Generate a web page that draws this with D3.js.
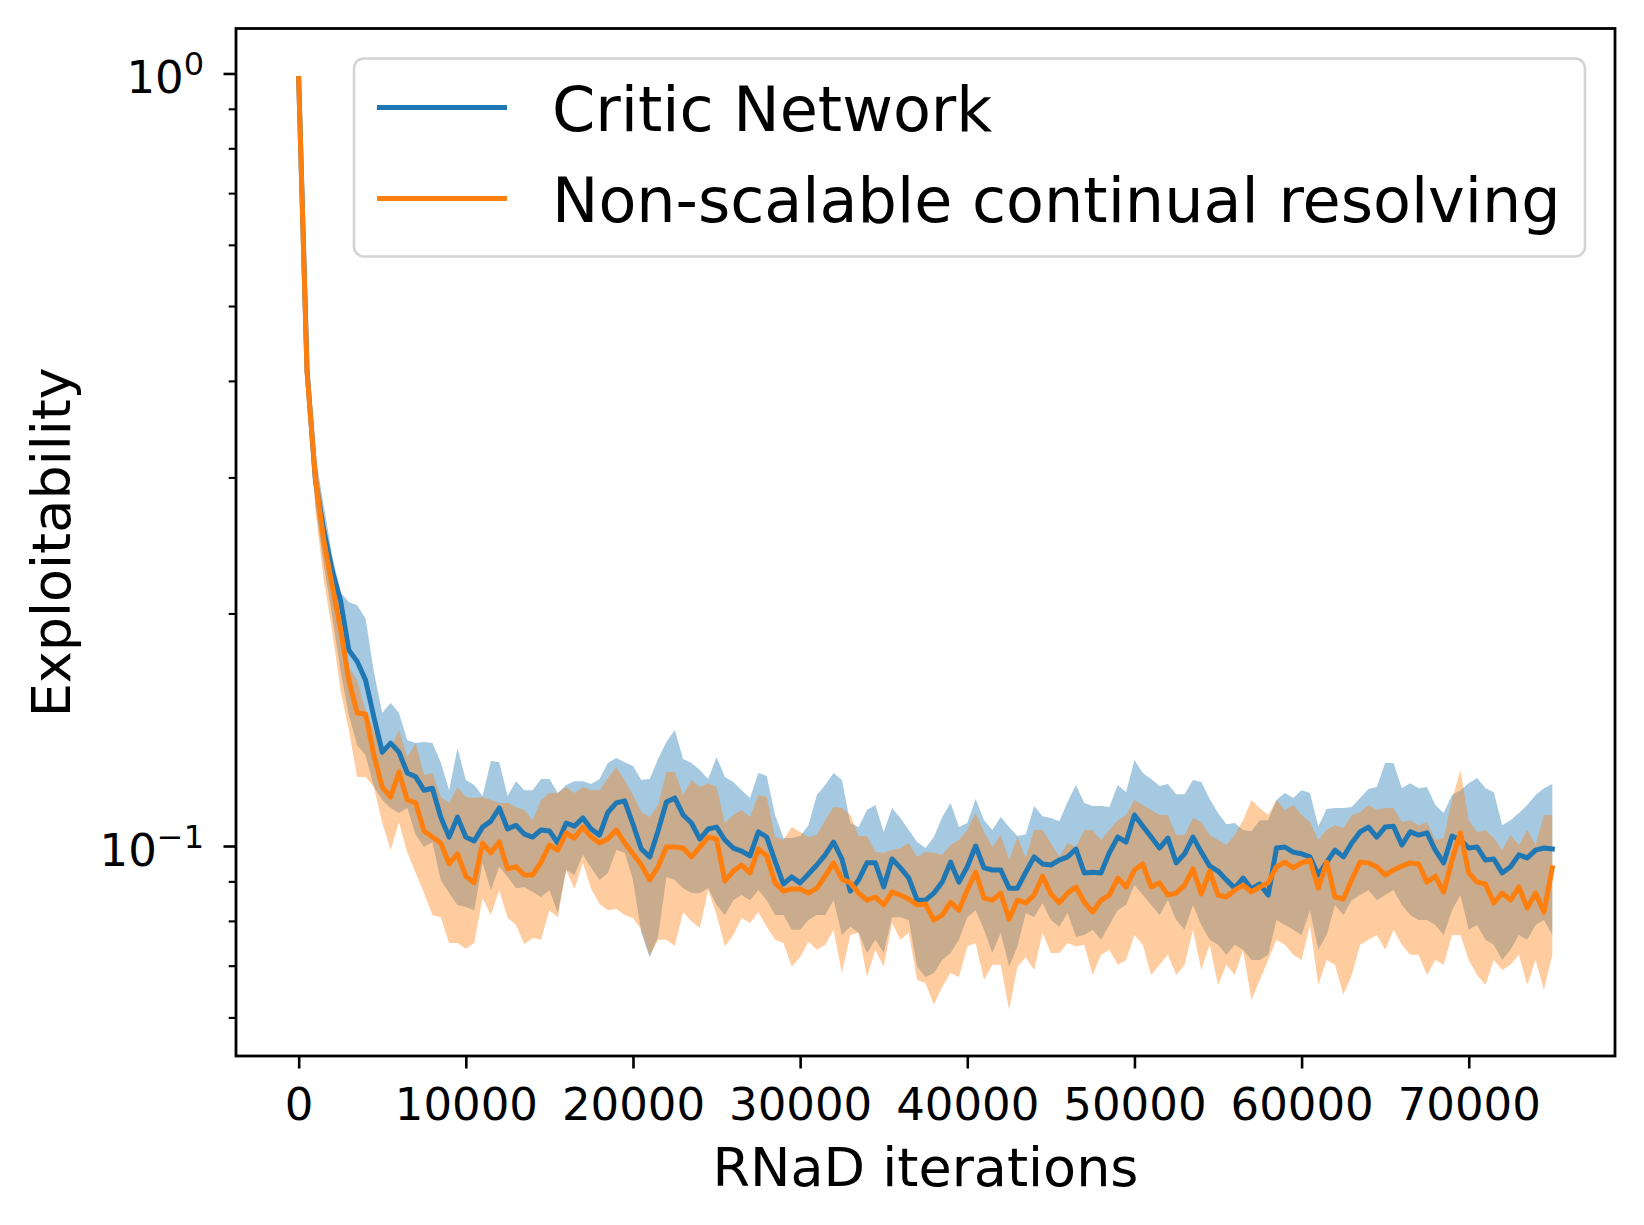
<!DOCTYPE html>
<html><head><meta charset="utf-8">
<script src="https://cdn.jsdelivr.net/npm/d3@7"></script>
<style>html,body{margin:0;padding:0;background:#fff;} svg{display:block;font-family:"DejaVu Sans",sans-serif;}</style>
</head><body><svg id="chart" width="1644" height="1225"></svg>
<script>
// ---------------- data ----------------
const iterStep = 500;            // evaluation every 500 RNaD iterations (0 .. 75000)
const seriesNames = ["Critic Network", "Non-scalable continual resolving"];
const seriesColors = ["#1f77b4", "#ff7f0e"];

const blueMean = [
0.985,0.413,0.2975,0.2563,0.2275,0.2081,0.1793,0.1733,0.1640,0.1468,
0.1323,0.1359,0.1323,0.1243,0.1229,0.1181,0.1188,0.1090,0.1027,0.1090,
0.1027,0.1015,0.1058,0.1077,0.1120,0.1052,0.1064,0.1036,0.1027,0.1049,
0.1046,0.1009,0.1071,0.1061,0.1087,0.1052,0.1033,0.1106,0.1137,0.1144,
0.1067,0.0991,0.0968,0.1046,0.1140,0.1154,0.1097,0.1071,0.1021,0.1052,
0.1058,0.1018,0.0994,0.0985,0.0971,0.1043,0.1027,0.0956,0.0893,0.0912,
0.0896,0.0920,0.0945,0.0974,0.1012,0.0962,0.0874,0.0904,0.0951,0.0951,
0.0885,0.0962,0.0937,0.0909,0.0851,0.0851,0.0869,0.0898,0.0953,0.0898,
0.0940,0.1000,0.0937,0.0931,0.0931,0.0882,0.0882,0.0925,0.0968,0.0948,
0.0945,0.0959,0.0968,0.0991,0.0923,0.0925,0.0923,0.0980,0.1027,0.1012,
0.1097,0.1061,0.1027,0.0994,0.1024,0.0951,0.0977,0.1027,0.0982,0.0942,
0.0928,0.0904,0.0882,0.0909,0.0880,0.0893,0.0864,0.0994,0.0997,0.0982,
0.0977,0.0968,0.0917,0.0953,0.0988,0.0968,0.1009,0.1043,0.1058,0.1027,
0.1058,0.1061,0.1003,0.1043,0.1033,0.1040,0.0988,0.0951,0.1030,0.1018,
0.0994,0.0997,0.0959,0.0962,0.0923,0.0940,0.0974,0.0965,0.0988,0.0994,
0.0991];

const blueUpper = [
0.995,0.436,0.3205,0.276,0.238,0.213,0.207,0.205,0.197,0.168,
0.1486,0.1531,0.1486,0.1371,0.1359,0.1363,0.1359,0.1284,0.1181,0.1339,
0.1217,0.1199,0.1161,0.1288,0.1284,0.1161,0.1213,0.1181,0.1181,0.1221,
0.1221,0.1171,0.1199,0.1213,0.1213,0.1203,0.1221,0.1281,0.1300,0.1284,
0.1269,0.1217,0.1221,0.1296,0.1363,0.1413,0.1296,0.1281,0.1254,0.1221,
0.1303,0.1228,0.1210,0.1181,0.1154,0.1243,0.1232,0.1097,0.1024,0.1024,
0.1030,0.1064,0.1164,0.1199,0.1243,0.1217,0.1071,0.1058,0.1113,0.1130,
0.1043,0.1120,0.1087,0.1049,0.1012,0.0994,0.1027,0.1090,0.1137,0.1058,
0.1071,0.1150,0.1080,0.1049,0.1090,0.1058,0.1030,0.1036,0.1127,0.1093,
0.1087,0.1077,0.1140,0.1199,0.1137,0.1127,0.1127,0.1123,0.1199,0.1174,
0.1292,0.1243,0.1221,0.1196,0.1203,0.1167,0.1167,0.1217,0.1210,0.1150,
0.1103,0.1067,0.1071,0.1049,0.1046,0.1080,0.1080,0.1147,0.1171,0.1154,
0.1181,0.1171,0.1061,0.1117,0.1120,0.1120,0.1123,0.1154,0.1185,0.1192,
0.1281,0.1281,0.1188,0.1206,0.1188,0.1192,0.1130,0.1103,0.1164,0.1181,
0.1206,0.1225,0.1188,0.1174,0.1064,0.1080,0.1103,0.1130,0.1164,0.1188,
0.1203];

const blueLower = [
0.982,0.389,0.276,0.231,0.199,0.1689,0.1477,0.1351,0.1311,0.1192,
0.1147,0.1120,0.1103,0.1120,0.1033,0.0997,0.1012,0.0904,0.0869,0.0839,
0.0834,0.0826,0.0951,0.0877,0.0940,0.0912,0.0882,0.0885,0.0872,0.0859,
0.0877,0.0819,0.0931,0.0917,0.0974,0.0937,0.0904,0.0923,0.0988,0.0980,
0.0904,0.0772,0.0718,0.0763,0.0912,0.0904,0.0882,0.0869,0.0869,0.0882,
0.0839,0.0814,0.0851,0.0864,0.0851,0.0877,0.0851,0.0814,0.0814,0.0779,
0.0779,0.0802,0.0814,0.0814,0.0851,0.0767,0.0786,0.0772,0.0727,0.0756,
0.0727,0.0809,0.0809,0.0802,0.0698,0.0677,0.0685,0.0712,0.0727,0.0756,
0.0809,0.0826,0.0779,0.0727,0.0772,0.0698,0.0741,0.0819,0.0809,0.0844,
0.0802,0.0786,0.0819,0.0763,0.0767,0.0779,0.0756,0.0790,0.0826,0.0839,
0.0890,0.0864,0.0839,0.0814,0.0851,0.0802,0.0779,0.0839,0.0790,0.0756,
0.0745,0.0723,0.0745,0.0734,0.0712,0.0712,0.0723,0.0802,0.0790,0.0779,
0.0767,0.0826,0.0734,0.0767,0.0839,0.0814,0.0851,0.0864,0.0877,0.0851,
0.0864,0.0877,0.0839,0.0814,0.0802,0.0802,0.0790,0.0767,0.0826,0.0864,
0.0779,0.0790,0.0756,0.0745,0.0712,0.0734,0.0767,0.0756,0.0790,0.0802,
0.0767];

const orangeMean = [
0.985,0.4106,0.2993,0.2488,0.2176,0.1914,0.1640,0.1486,0.1482,0.1311,
0.1192,0.1157,0.1247,0.1147,0.1137,0.1046,0.1027,0.1009,0.0948,0.0977,
0.0914,0.0896,0.1009,0.0980,0.1012,0.0934,0.0940,0.0917,0.0917,0.0953,
0.1003,0.0988,0.1040,0.1024,0.1058,0.1027,0.1009,0.1021,0.1049,0.1009,
0.0977,0.0945,0.0904,0.0940,0.0997,0.0997,0.0994,0.0968,0.0997,0.1027,
0.1021,0.0901,0.0928,0.0945,0.0923,0.0991,0.0971,0.0896,0.0874,0.0880,
0.0880,0.0869,0.0882,0.0914,0.0951,0.0906,0.0896,0.0869,0.0851,0.0859,
0.0839,0.0872,0.0864,0.0854,0.0839,0.0841,0.0802,0.0814,0.0846,0.0826,
0.0877,0.0925,0.0856,0.0851,0.0869,0.0804,0.0851,0.0844,0.0864,0.0914,
0.0867,0.0844,0.0869,0.0885,0.0846,0.0821,0.0851,0.0864,0.0909,0.0885,
0.0931,0.0948,0.0885,0.0896,0.0864,0.0869,0.0890,0.0934,0.0867,0.0928,
0.0864,0.0859,0.0877,0.0890,0.0872,0.0885,0.0896,0.0940,0.0953,0.0937,
0.0951,0.0959,0.0882,0.0953,0.0859,0.0854,0.0904,0.0953,0.0951,0.0940,
0.0917,0.0931,0.0942,0.0951,0.0948,0.0898,0.0914,0.0872,0.0959,0.1040,
0.0923,0.0898,0.0893,0.0844,0.0869,0.0851,0.0885,0.0831,0.0869,0.0821,
0.0937];

const orangeUpper = [
0.993,0.432,0.3205,0.268,0.2344,0.2081,0.1704,0.1640,0.1500,0.1413,
0.1343,0.1339,0.1413,0.1303,0.1359,0.1236,0.1243,0.1157,0.1137,0.1192,
0.1157,0.1154,0.1157,0.1147,0.1137,0.1137,0.1123,0.1113,0.1080,0.1147,
0.1171,0.1171,0.1192,0.1171,0.1192,0.1181,0.1181,0.1225,0.1266,0.1217,
0.1164,0.1106,0.1090,0.1130,0.1247,0.1247,0.1164,0.1217,0.1192,0.1206,
0.1192,0.1071,0.1097,0.1113,0.1090,0.1164,0.1157,0.1027,0.1018,0.1058,
0.1043,0.1027,0.1033,0.1080,0.1123,0.1120,0.1097,0.1030,0.1030,0.0982,
0.0980,0.0988,0.0994,0.1009,0.0968,0.0982,0.0980,0.0974,0.1003,0.1018,
0.1049,0.1103,0.1043,0.0997,0.1033,0.0959,0.1027,0.0965,0.1049,0.1049,
0.1009,0.0968,0.1009,0.0997,0.1049,0.1049,0.1018,0.1049,0.1080,0.1097,
0.1147,0.1130,0.1113,0.1097,0.1097,0.1033,0.1033,0.1087,0.1074,0.1033,
0.1018,0.1003,0.1033,0.1080,0.1147,0.1120,0.1097,0.1147,0.1113,0.1130,
0.1097,0.1074,0.1018,0.1049,0.1064,0.1055,0.1097,0.1106,0.1130,0.1113,
0.1120,0.1120,0.1074,0.1080,0.1064,0.1074,0.1018,0.1024,0.1147,0.1254,
0.1080,0.1043,0.1049,0.1024,0.0988,0.1033,0.1003,0.1049,0.1003,0.1097,
0.1097];

const orangeLower = [
0.982,0.383,0.2721,0.2209,0.1903,0.1591,0.1413,0.1228,0.1228,0.1192,
0.1071,0.0988,0.1074,0.0980,0.0923,0.0869,0.0814,0.0809,0.0749,0.0749,
0.0736,0.0749,0.0856,0.0814,0.0877,0.0807,0.0790,0.0747,0.0760,0.0756,
0.0826,0.0809,0.0931,0.0880,0.0951,0.0880,0.0841,0.0826,0.0829,0.0814,
0.0807,0.0779,0.0721,0.0756,0.0756,0.0743,0.0821,0.0799,0.0783,0.0877,
0.0814,0.0741,0.0767,0.0807,0.0795,0.0821,0.0786,0.0756,0.0749,0.0698,
0.0718,0.0752,0.0734,0.0745,0.0779,0.0685,0.0767,0.0772,0.0677,0.0734,
0.0698,0.0795,0.0756,0.0772,0.0671,0.0665,0.0623,0.0657,0.0685,0.0677,
0.0741,0.0749,0.0671,0.0702,0.0702,0.0614,0.0698,0.0718,0.0691,0.0772,
0.0727,0.0727,0.0749,0.0741,0.0745,0.0681,0.0723,0.0734,0.0702,0.0712,
0.0767,0.0745,0.0681,0.0702,0.0723,0.0681,0.0702,0.0779,0.0691,0.0745,
0.0661,0.0702,0.0681,0.0734,0.0632,0.0671,0.0712,0.0756,0.0745,0.0723,
0.0712,0.0790,0.0661,0.0712,0.0702,0.0642,0.0681,0.0745,0.0756,0.0767,
0.0734,0.0779,0.0745,0.0723,0.0723,0.0681,0.0712,0.0702,0.0767,0.0767,
0.0712,0.0681,0.0661,0.0712,0.0691,0.0702,0.0723,0.0661,0.0712,0.0651,
0.0723];

const xTickValues = [0,10000,20000,30000,40000,50000,60000,70000];
const yMajorTicks = [1, 0.1];
const yMajorLabels = [["10","0"],["10","\u22121"]];
const yMinorTicks = [0.06,0.07,0.08,0.09,0.2,0.3,0.4,0.5,0.6,0.7,0.8,0.9];
const xLabel = "RNaD iterations";
const yLabel = "Exploitability";

// ---------------- layout ----------------
const plot = {left:236, right:1615, top:28.5, bottom:1056};
const svg = d3.select("#chart");
const iterations = blueMean.map((_, i) => i * iterStep);

const x = d3.scaleLinear().domain([-3750, 78750]).range([plot.left, plot.right]);
const y = d3.scaleLog().domain([0.05348, 1.1434]).range([plot.bottom, plot.top]);

const bands = [
  {lo: blueLower, hi: blueUpper, color: seriesColors[0]},
  {lo: orangeLower, hi: orangeUpper, color: seriesColors[1]}
];
const means = [blueMean, orangeMean];

const area = (lo, hi) => d3.area()
  .x((d, i) => x(iterations[i]))
  .y0((d, i) => y(lo[i]))
  .y1((d, i) => y(hi[i]));

const gData = svg.append("g");
bands.forEach(b => {
  gData.append("path").datum(b.lo)
    .attr("d", area(b.lo, b.hi))
    .attr("fill", b.color).attr("fill-opacity", 0.4).attr("stroke", "none");
});
const line = d3.line().x((d, i) => x(iterations[i])).y(d => y(d));
means.forEach((m, s) => {
  gData.append("path").datum(m)
    .attr("d", line)
    .attr("fill", "none").attr("stroke", seriesColors[s])
    .attr("stroke-width", 5).attr("stroke-linejoin", "round").attr("stroke-linecap", "square");
});

// x axis
const xAxis = d3.axisBottom(x).tickValues(xTickValues).tickFormat(d3.format("d"))
  .tickSizeInner(12.5).tickSizeOuter(0).tickPadding(19.5);
const gx = svg.append("g").attr("transform", `translate(0,${plot.bottom})`).call(xAxis);
gx.select(".domain").remove();
gx.selectAll(".tick line").attr("stroke", "#000").attr("stroke-width", 2.6);
gx.selectAll(".tick text").attr("fill", "#000").attr("font-size", 45)
  .attr("font-family", "DejaVu Sans, sans-serif");

// y axis (log) major + minor ticks
const yMajor = d3.axisLeft(y).tickValues(yMajorTicks).tickFormat("").tickSizeInner(12.5).tickSizeOuter(0);
const gy = svg.append("g").attr("transform", `translate(${plot.left},0)`).call(yMajor);
gy.select(".domain").remove();
gy.selectAll(".tick line").attr("stroke", "#000").attr("stroke-width", 2.6);
const yMinor = d3.axisLeft(y).tickValues(yMinorTicks).tickFormat("").tickSizeInner(7.3).tickSizeOuter(0);
const gym = svg.append("g").attr("transform", `translate(${plot.left},0)`).call(yMinor);
gym.select(".domain").remove();
gym.selectAll(".tick line").attr("stroke", "#000").attr("stroke-width", 2.1);

yMajorTicks.forEach((v, i) => {
  const t = svg.append("text").attr("x", 204).attr("y", y(v) + 20)
    .attr("text-anchor", "end").attr("font-size", 45).attr("fill", "#000");
  t.append("tspan").text(yMajorLabels[i][0]);
  t.append("tspan").attr("dy", -18).attr("font-size", 32).text(yMajorLabels[i][1]);
});

// spines
svg.append("rect").attr("x", plot.left).attr("y", plot.top)
  .attr("width", plot.right - plot.left).attr("height", plot.bottom - plot.top)
  .attr("fill", "none").attr("stroke", "#000").attr("stroke-width", 2.8);

// axis labels
svg.append("text").attr("x", (plot.left + plot.right) / 2).attr("y", 1186)
  .attr("text-anchor", "middle").attr("font-size", 54).attr("fill", "#000").text(xLabel);
svg.append("text").attr("transform", `translate(70,${(plot.top + plot.bottom) / 2}) rotate(-90)`)
  .attr("text-anchor", "middle").attr("font-size", 54).attr("fill", "#000").text(yLabel);

// legend
const lg = svg.append("g");
lg.append("rect").attr("x", 354).attr("y", 58.5).attr("width", 1231).attr("height", 198)
  .attr("rx", 10).attr("fill", "#fff").attr("fill-opacity", 0.8)
  .attr("stroke", "#d4d4d4").attr("stroke-width", 2.6);
const legendRows = [107.5, 198.5];
seriesNames.forEach((name, i) => {
  lg.append("line").attr("x1", 377).attr("x2", 507).attr("y1", legendRows[i]).attr("y2", legendRows[i])
    .attr("stroke", seriesColors[i]).attr("stroke-width", 5);
  lg.append("text").attr("x", 552).attr("y", legendRows[i] + 23.5)
    .attr("font-size", 62).attr("fill", "#000").text(name);
});
</script>
</body></html>
